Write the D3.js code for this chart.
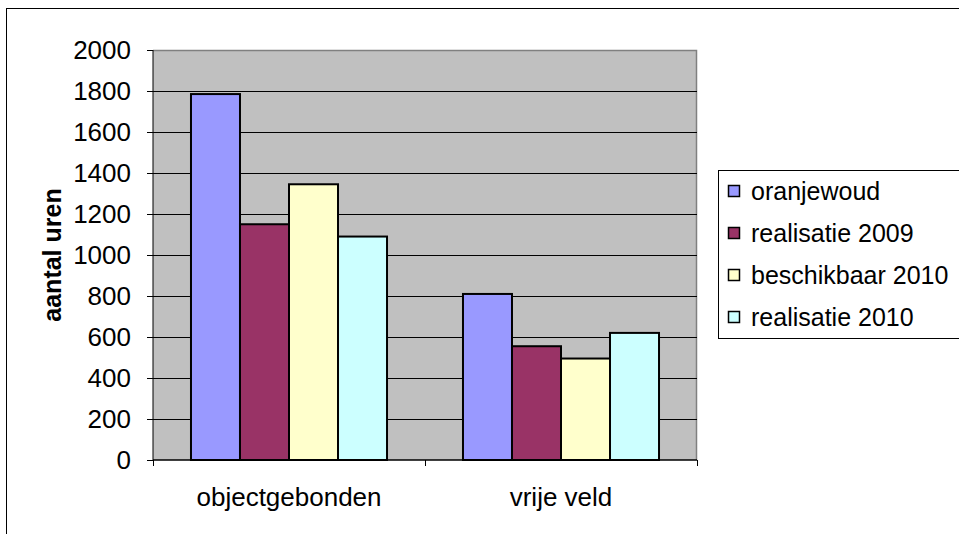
<!DOCTYPE html>
<html>
<head>
<meta charset="utf-8">
<script src="https://cdn.jsdelivr.net/npm/d3@7"></script>
<style>
  html, body { margin: 0; padding: 0; background: #fff; }
  svg { display: block; font-family: "Liberation Sans", Arial, sans-serif; }
</style>
</head>
<body>
<svg id="chart" width="959" height="534"></svg>
<script>
// Hours per category and series
const categories = ["objectgebonden", "vrije veld"];
const seriesNames = ["oranjewoud", "realisatie 2009", "beschikbaar 2010", "realisatie 2010"];
const seriesColors = ["#9999FF", "#993366", "#FFFFCC", "#CCFFFF"];
const valuesObjectgebonden = [1785, 1150, 1345, 1090];
const valuesVrijeVeld = [810, 555, 495, 620];
const yTicks = [0, 200, 400, 600, 800, 1000, 1200, 1400, 1600, 1800, 2000];
const yTitle = "aantal uren";

const rows = [valuesObjectgebonden, valuesVrijeVeld];

const svg = d3.select("#chart");
const plot = { left: 153, right: 697, top: 50, bottom: 460 };

// outer frame
svg.append("rect")
  .attr("x", 6.5).attr("y", 8.5).attr("width", 1000).attr("height", 600)
  .attr("fill", "#fff").attr("stroke", "#000").attr("stroke-width", 1);

const x0 = d3.scaleBand().domain(categories).range([plot.left, plot.right]).paddingInner(0).paddingOuter(0);
const x1 = d3.scaleBand().domain(seriesNames).range([0, x0.bandwidth()]).paddingInner(0).paddingOuter(0.775);
const y = d3.scaleLinear().domain([0, 2000]).range([plot.bottom, plot.top]);

// plot background
svg.append("rect")
  .attr("x", plot.left).attr("y", plot.top)
  .attr("width", plot.right - plot.left).attr("height", plot.bottom - plot.top)
  .attr("fill", "#C0C0C0");
svg.append("path")
  .attr("d", `M${plot.left},${plot.top + 0.5}H${plot.right - 0.5}V${plot.bottom}`)
  .attr("fill", "none").attr("stroke", "#808080").attr("stroke-width", 1.5);

// gridlines
svg.append("g").selectAll("line")
  .data(yTicks.filter(t => t > 0 && t < 2000))
  .join("line")
  .attr("x1", plot.left).attr("x2", plot.right)
  .attr("y1", d => Math.round(y(d)) + 0.5).attr("y2", d => Math.round(y(d)) + 0.5)
  .attr("stroke", "#000").attr("stroke-width", 1);

// bars
const groups = svg.append("g").selectAll("g")
  .data(categories.map((c, i) => ({ c, vals: rows[i] })))
  .join("g")
  .attr("transform", d => `translate(${x0(d.c)},0)`);
groups.selectAll("rect")
  .data(d => d.vals.map((v, j) => ({ name: seriesNames[j], v, color: seriesColors[j] })))
  .join("rect")
  .attr("x", d => x1(d.name))
  .attr("y", d => y(d.v))
  .attr("width", x1.bandwidth())
  .attr("height", d => y(0) - y(d.v))
  .attr("fill", d => d.color)
  .attr("stroke", "#000").attr("stroke-width", 2);

// y axis
const yAxis = svg.append("g")
  .attr("transform", `translate(${plot.left},0)`)
  .call(d3.axisLeft(y).tickValues(yTicks).tickSize(6).tickPadding(16).tickFormat(d3.format("d")));
yAxis.selectAll("text").attr("font-size", 26).attr("fill", "#000")
  .attr("font-family", "'Liberation Sans', Arial, sans-serif");
yAxis.selectAll("line").attr("stroke", "#000");
yAxis.select(".domain").attr("stroke", "#000").attr("d", `M0,${plot.top}V${plot.bottom}`);

// x axis
const xAxis = svg.append("g").attr("transform", `translate(0,${plot.bottom})`);
xAxis.append("line").attr("x1", plot.left).attr("x2", plot.right).attr("stroke", "#000").attr("stroke-width", 1.5);
const boundaries = [plot.left].concat(categories.map(c => x0(c) + x0.bandwidth()));
xAxis.selectAll(".tk").data(boundaries).join("line").attr("class", "tk")
  .attr("x1", d => Math.round(d) + 0.5).attr("x2", d => Math.round(d) + 0.5)
  .attr("y1", 0).attr("y2", 6).attr("stroke", "#000");
xAxis.selectAll("text").data(categories).join("text")
  .attr("x", d => x0(d) + x0.bandwidth() / 2)
  .attr("y", 46)
  .attr("text-anchor", "middle")
  .attr("font-size", 26)
  .text(d => d);

// y title
svg.append("text")
  .attr("transform", `translate(61,${(plot.top + plot.bottom) / 2}) rotate(-90)`)
  .attr("text-anchor", "middle")
  .attr("font-size", 25).attr("font-weight", "bold")
  .text(yTitle);

// legend
const legend = svg.append("g");
legend.append("rect")
  .attr("x", 718.5).attr("y", 170.5).attr("width", 260).attr("height", 168)
  .attr("fill", "#fff").attr("stroke", "#000");
const items = legend.selectAll("g.item").data(seriesNames).join("g").attr("class", "item")
  .attr("transform", (d, i) => `translate(728,${191 + i * 42})`);
items.append("rect")
  .attr("x", 0.5).attr("y", -5.5).attr("width", 11).attr("height", 11)
  .attr("fill", (d, i) => seriesColors[i]).attr("stroke", "#000").attr("stroke-width", 1.5);
items.append("text")
  .attr("x", 23).attr("y", 9)
  .attr("font-size", 25)
  .text(d => d);
</script>
</body>
</html>
